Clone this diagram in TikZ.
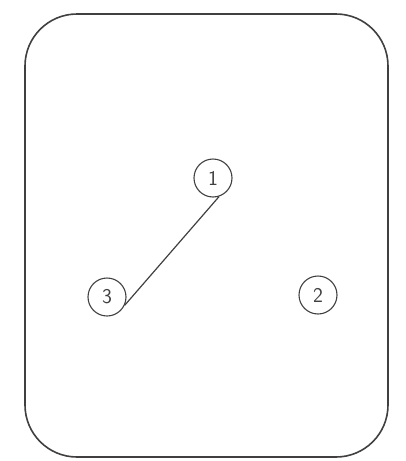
\documentclass[tikz,border=0pt]{standalone}
\begin{document}
\begin{tikzpicture}[x=1pt,y=-1pt,
  frame/.style={draw=black!75,line width=1.6pt,rounded corners=52pt},
  num/.style={circle,draw=black!75,line width=1.1pt,minimum size=38pt,inner sep=0pt,font=\fontsize{21}{21}\sffamily,text=black!75},
  link/.style={draw=black!75,line width=1.2pt}]
\useasboundingbox (0,0) rectangle (405,461);
\draw[frame] (25,14) rectangle (388,457);
\node[num] (n1) at (213,178) {1};
\node[num] (n3) at (107,297) {3};
\node[num] (n2) at (318,295) {2};
\draw[link] (n1.-72) -- (n3.-25);
\end{tikzpicture}
\end{document}
